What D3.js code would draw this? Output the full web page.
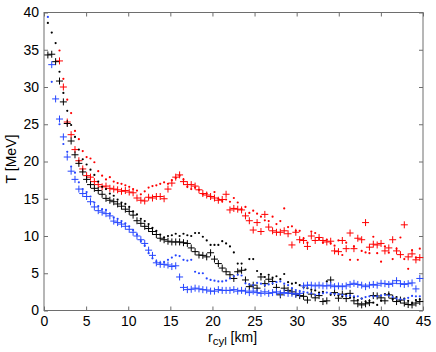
<!DOCTYPE html>
<html><head><meta charset="utf-8">
<script src="https://cdn.jsdelivr.net/npm/d3@7"></script>
<style>body{margin:0;background:#fff}svg{display:block}text{font-family:"Liberation Sans",Arial,sans-serif}</style>
</head><body><svg id="c" width="436" height="352"></svg>
<script>
// radial grid (km)
const rGrid = [0.46,0.92,1.38,1.84,2.30,2.76,3.22,3.68,4.14,4.60,
5.06,5.52,5.98,6.44,6.90,7.36,7.82,8.28,8.74,9.20,
9.66,10.12,10.58,11.04,11.50,11.96,12.42,12.88,13.34,13.80,
14.26,14.72,15.18,15.64,16.10,16.56,17.02,17.48,17.94,18.40,
18.86,19.32,19.78,20.24,20.70,21.16,21.62,22.08,22.54,23.00,
23.46,23.92,24.38,24.84,25.30,25.76,26.22,26.68,27.14,27.60,
28.06,28.52,28.98,29.44,29.90,30.36,30.82,31.28,31.74,32.20,
32.66,33.12,33.58,34.04,34.50,34.96,35.42,35.88,36.34,36.80,
37.26,37.72,38.18,38.64,39.10,39.56,40.02,40.48,40.94,41.40,
41.86,42.32,42.78,43.24,43.70,44.16,44.62];

const redPlus = [null,null,null,33.5,30.0,25.3,23.6,21.6,20.1,19.0,
18.1,17.9,17.3,16.9,16.6,16.7,16.4,16.3,16.2,16.0,
16.1,15.9,15.8,15.1,14.8,14.7,15.2,15.1,15.3,15.3,
15.0,16.3,17.1,17.9,18.2,17.3,16.9,16.9,16.7,16.2,
15.7,15.5,15.3,15.1,14.8,14.9,15.6,13.5,13.7,13.6,
13.5,12.7,12.05,10.8,11.8,10.6,12.9,11.2,10.7,10.5,
10.5,10.7,10.3,8.8,10.5,9.5,9.4,8.6,10.0,9.4,
9.8,9.4,9.2,9.3,8.0,7.9,9.4,8.3,10.4,8.3,
9.7,9.5,11.8,8.5,8.9,8.8,9.0,8.0,8.4,9.5,
8.0,7.5,11.5,7.2,7.6,6.8,7.1];

const redDot = [null,null,null,34.9,31.1,28.3,26.5,24.1,23.0,21.4,
20.6,20.4,19.9,18.7,18.1,17.6,17.9,17.3,17.1,17.0,
16.8,16.6,16.3,16.1,15.6,16.0,16.5,16.7,16.8,17.0,
17.2,17.0,17.5,17.8,18.1,17.6,16.6,16.3,16.5,16.2,
15.6,15.7,15.3,15.9,15.0,14.7,14.9,14.6,15.1,14.5,
13.6,13.9,13.1,13.4,13.0,12.6,12.1,12.0,12.6,11.6,
12.0,13.7,11.2,11.3,10.7,10.7,9.7,9.1,10.6,10.4,
9.6,9.1,9.5,9.0,8.7,9.4,7.45,9.1,6.8,8.6,
6.8,8.0,7.8,7.7,9.9,7.7,6.55,8.6,7.76,6.9,
8.3,9.8,6.9,5.6,8.1,7.1,8.3];

const blackPlus = [34.3,34.4,33.4,30.8,28.0,25.1,22.75,20.9,19.75,18.6,
17.6,16.9,16.4,16.1,15.6,15.05,14.8,14.6,14.3,14.0,
13.6,13.3,12.8,12.05,11.7,11.3,11.0,10.6,10.2,9.7,
9.5,9.3,9.2,9.2,9.2,9.1,9.0,8.4,7.9,7.45,
7.4,7.2,7.75,6.9,6.3,5.7,5.2,4.8,4.3,5.2,
5.4,4.1,3.2,3.4,3.0,4.5,3.6,4.2,3.9,3.1,
2.1,3.0,2.7,2.5,2.2,2.0,1.9,1.4,2.2,1.7,
2.0,1.2,1.3,4.1,2.4,1.65,2.2,1.6,2.3,1.3,
0.9,0.75,0.9,1.05,2.0,1.95,1.7,1.3,2.1,1.65,
1.2,1.4,1.0,0.8,0.75,1.0,1.2];

const blackDot = [38.6,37.3,35.9,32.05,29.2,26.8,24.9,23.3,21.6,20.3,
19.6,18.9,18.2,17.3,16.6,16.3,15.7,15.4,14.9,14.5,
14.3,13.9,13.3,12.9,12.3,12.0,11.6,11.1,10.7,10.2,
9.8,10.0,10.1,10.3,10.0,10.3,10.1,10.0,10.4,10.4,
9.9,9.4,8.8,8.8,8.8,9.3,9.0,8.6,7.8,6.3,
6.3,5.5,6.9,6.9,5.3,4.9,4.5,4.8,4.4,4.6,
4.2,4.9,3.8,3.6,3.7,3.4,3.1,3.0,2.8,2.7,
2.4,2.5,3.9,2.1,2.3,2.0,1.9,2.2,1.7,1.8,
1.4,1.6,1.2,1.3,1.05,0.75,1.3,2.2,2.2,1.5,
1.8,1.4,1.6,1.3,1.0,1.4,1.5];

const bluePlus = [null,33.0,28.4,25.7,23.3,20.6,18.7,17.6,16.3,15.7,
15.3,14.6,13.9,13.4,13.2,13.0,12.7,12.0,11.8,11.6,
11.3,10.9,10.5,10.0,9.5,9.0,8.1,7.4,6.4,6.2,
6.2,6.1,5.9,6.0,4.5,3.1,2.8,2.85,3.0,2.9,
2.8,2.75,2.6,2.6,2.8,2.7,2.7,2.7,2.8,2.6,
2.7,2.6,2.4,2.6,2.4,2.3,2.5,2.3,2.4,2.5,
2.3,2.4,2.3,2.3,2.2,2.3,3.3,3.4,3.4,3.3,
3.4,3.3,3.3,3.4,3.2,3.3,3.2,3.3,3.5,3.65,
3.5,3.4,3.2,3.4,3.5,3.4,3.65,3.6,3.5,3.65,
4.0,3.6,3.5,3.6,3.7,2.9,4.3];

const blueDot = [39.4,30.7,null,25.0,22.35,21.3,19.3,18.5,17.2,16.3,
15.9,15.3,14.5,14.0,13.6,13.5,13.0,12.5,12.3,12.0,
11.7,11.3,10.8,10.2,9.3,8.7,7.7,7.0,6.6,6.4,
6.5,6.8,7.1,7.4,7.3,6.8,6.7,6.8,5.2,5.0,
5.0,4.3,4.1,4.0,3.9,3.9,4.0,4.3,4.6,4.8,
4.7,3.65,3.5,3.4,3.7,3.6,3.4,3.5,3.65,3.8,
3.9,3.6,3.4,3.0,2.75,2.6,2.5,2.4,2.3,2.1,
2.2,2.3,2.4,2.3,2.2,2.2,2.1,1.95,2.0,1.9,
1.9,1.6,1.8,1.9,1.9,1.9,2.0,2.1,2.0,1.8,
1.6,1.5,1.5,1.7,1.95,1.9,1.9];

const xTicks = [0,5,10,15,20,25,30,35,40,45];
const yTicks = [0,5,10,15,20,25,30,35,40];

const series = [
  {vals: redPlus, color: "#ff0000", kind: "plus"},
  {vals: redDot, color: "#ff0000", kind: "dot"},
  {vals: blackPlus, color: "#000000", kind: "plus"},
  {vals: blackDot, color: "#000000", kind: "dot"},
  {vals: bluePlus, color: "#2646ff", kind: "plus"},
  {vals: blueDot, color: "#2646ff", kind: "dot"}
];

const L = 44, R = 423, T = 12.5, B = 310.5;
const x = d3.scaleLinear().domain([0,45]).range([L,R]);
const y = d3.scaleLinear().domain([0,40]).range([B,T]);
const svg = d3.select("#c");
const axisCol = "#6e6e6e";

// axes
const ax = (g, axis) => {
  g.call(axis);
  g.select(".domain").remove();
  g.selectAll(".tick line").attr("stroke", axisCol);
  g.selectAll("text").attr("fill","#000").style("font-size","14px").style("font-family","'Liberation Sans',Arial,sans-serif");
};
svg.append("g").attr("transform",`translate(0,${B})`)
  .call(g=>ax(g, d3.axisBottom(x).tickValues(xTicks).tickSize(-4).tickPadding(6).tickFormat(d3.format("d"))));
svg.append("g").attr("transform",`translate(0,${T})`)
  .call(g=>ax(g, d3.axisTop(x).tickValues(xTicks).tickSize(-4).tickFormat("")));
svg.append("g").attr("transform",`translate(${L},0)`)
  .call(g=>ax(g, d3.axisLeft(y).tickValues(yTicks).tickSize(-4).tickPadding(5).tickFormat(d3.format("d"))));
svg.append("g").attr("transform",`translate(${R},0)`)
  .call(g=>ax(g, d3.axisRight(y).tickValues(yTicks).tickSize(-4).tickFormat("")));
svg.append("rect").attr("x",L).attr("y",T).attr("width",R-L).attr("height",B-T)
  .attr("fill","none").attr("stroke",axisCol).attr("stroke-width",1);

// data
const plot = svg.append("g");
series.forEach(s=>{
  const pts = rGrid.map((r,i)=>({r, v:s.vals[i]})).filter(d=>d.v!=null);
  if (s.kind==="plus") {
    plot.append("g").selectAll("path").data(pts).join("path")
      .attr("d", d=>`M${x(d.r)-3.5},${y(d.v)}h7M${x(d.r)},${y(d.v)-3.5}v7`)
      .attr("stroke", s.color).attr("stroke-width",1).attr("fill","none");
  } else {
    plot.append("g").selectAll("circle").data(pts).join("circle")
      .attr("cx", d=>x(d.r)).attr("cy", d=>y(d.v)).attr("r",1.1)
      .attr("fill", s.color);
  }
});

// labels
const xl = svg.append("text").attr("x",208).attr("y",342).attr("text-anchor","start")
  .style("font-size","14px");
xl.append("tspan").text("r");
xl.append("tspan").attr("dy",3).style("font-size","11.5px").text("cyl");
xl.append("tspan").attr("dy",-3).text(" [km]");
svg.append("text").attr("transform","translate(15.5,159) rotate(-90)").attr("text-anchor","middle")
  .style("font-size","14px").text("T [MeV]");
</script></body></html>
